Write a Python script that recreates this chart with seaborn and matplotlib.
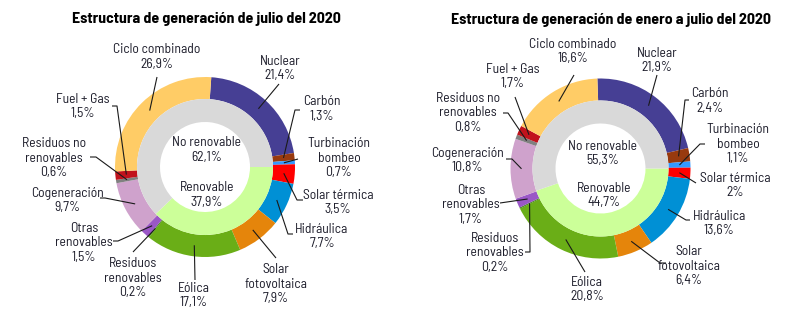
import numpy as np
import matplotlib
matplotlib.use("Agg")
import matplotlib.pyplot as plt
from matplotlib import font_manager as fm
import seaborn as sns

# ---------------- data ----------------
categories = ["Nuclear", "Carbón", "Turbinación\nbombeo", "Solar térmica", "Hidráulica",
              "Solar\nfotovoltaica", "Eólica", "Residuos\nrenovables", "Otras\nrenovables",
              "Cogeneración", "Residuos no\nrenovables", "Fuel + Gas", "Ciclo combinado"]
values_julio = [21.4, 1.3, 0.7, 3.5, 7.7, 7.9, 17.1, 0.2, 1.5, 9.7, 0.6, 1.5, 26.9]
values_enero_julio = [21.9, 2.4, 1.1, 2.0, 13.6, 6.4, 20.8, 0.2, 1.7, 10.8, 0.8, 1.7, 16.6]

inner_categories = ["Renovable", "No renovable"]
inner_julio = [37.9, 62.1]
inner_enero_julio = [44.7, 55.3]

titles = ["Estructura de generación de julio del 2020",
          "Estructura de generación de enero a julio del 2020"]

colors = ["#463F94", "#983A0E", "#3399FF", "#FF0000", "#0090D5", "#E5850B", "#6AAE17",
          "#3E7D14", "#9A57C6", "#CFA2CC", "#808080", "#C1121C", "#FFCC66"]
inner_colors = ["#CCFF99", "#D9D9D9"]

# ---------------- layout (pixels, y measured from top) ----------------
W, H = 800, 332
charts = [
    dict(center=(205, 167), start=4, title_pos=(206, 19),
         labels=[(280, 68.5), (322, 109), (339, 158), (338, 202.5), (322, 236.5),
                 (276, 284), (194, 295.5), (133, 278), (84, 243), (67, 200.5),
                 (54, 158), (83, 106.5), (157, 57)],
         paths=[[(279, 84)], [(295, 110), (300, 110)], [(298, 159)],
                [(297, 200), (303, 200)], [(288, 234), (293, 234)], [(276, 258)],
                [(195, 280)], [(133, 252)], [(118, 241), (113, 241)],
                [(105, 198), (100, 198)], [(96, 157), (90, 157)],
                [(117, 106), (112, 106)], [(157, 77)]],
         inner_pos=[(207, 195), (207, 150)]),
    dict(center=(600.5, 168.5), start=-2, title_pos=(611, 20),
         labels=[(657, 60.5), (710, 101), (738, 144), (735, 185.5), (719, 223.5),
                 (689, 266), (587, 289.5), (495, 253), (471, 205), (467, 160.5),
                 (468, 113), (513, 76.5), (573, 51.5)],
         paths=[[(657, 75)], [(685, 100), (689, 100)], [(700, 144), (705, 144)],
                [(696, 183)], [(686, 220), (690, 220)], [(660, 263), (666, 263)],
                [(585, 272)], [(530, 252), (525, 252)], [(500, 203)],
                [(512, 159), (506, 159)], [(508, 113), (503, 113)], [(515, 97)],
                [(574, 75)]],
         inner_pos=[(604, 195.5), (603, 153.5)]),
]
R_OUT, R_MID, R_IN = 90, 68, 45

sns.set_style("white")
plt.rcParams['font.family'] = ['Roboto', 'DejaVu Sans']


# ---------------- pick a condensed font if one is installed ----------------
def _wnum(w):
    if isinstance(w, (int, float)):
        return w
    return {"normal": 400, "regular": 400, "book": 400, "medium": 500,
            "semibold": 600, "demibold": 600, "bold": 700, "heavy": 800,
            "black": 900, "light": 300}.get(str(w).lower(), 400)


def find_condensed(bold):
    best = None
    for f in fm.fontManager.ttflist:
        name = f.name
        low = name.lower()
        if any(k in low for k in ("mono", "serif", "cjk", "math", "symbol", "emoji")):
            continue
        stretch = str(f.stretch).lower()
        cond = ("condensed" in stretch or "narrow" in stretch or "condensed" in low
                or "narrow" in low or "condensed" in f.fname.lower())
        if not cond or "extra" in stretch or "ultra" in stretch:
            continue
        if f.style != "normal":
            continue
        w = _wnum(f.weight)
        target = 700 if bold else 400
        score = abs(w - target)
        if "semi" in stretch or "semi" in low or "semi" in f.fname.lower():
            score -= 50
        if "extracond" in f.fname.lower() or "ultracond" in f.fname.lower():
            score += 500
        if best is None or score < best[0]:
            best = (score, f.fname)
    if best is not None and best[0] < 150:
        return fm.FontProperties(fname=best[1])
    return None


fp_reg = find_condensed(False)
fp_bold = find_condensed(True)
if fp_reg is not None:
    LBL = dict(fontproperties=fp_reg)
    LSIZE = 9.8
else:
    LBL = dict(family=["Roboto", "DejaVu Sans"], fontstretch="condensed")
    LSIZE = 9.0
if fp_bold is not None:
    TTL = dict(fontproperties=fp_bold)
    TSIZE = 11.4
else:
    TTL = dict(family=["Roboto", "DejaVu Sans"], fontweight="bold")
    TSIZE = 9.8

TXT = "#1C1C2A"


def fmt(v):
    if abs(v - round(v)) < 1e-9:
        return f"{int(round(v))}%"
    return f"{v:.1f}%".replace(".", ",")


fig = plt.figure(figsize=(8, 3.32), dpi=100)
ax = fig.add_axes([0, 0, 1, 1])


def Y(y):
    return H - y


def put_text(x, y, s, size, props, **kw):
    t = ax.text(x, Y(y), s, ha="center", va="center", color=kw.pop("color", TXT),
                **props, **kw)
    t.set_fontsize(size)
    return t


for chart, outer, inner, title in zip(charts, [values_julio, values_enero_julio],
                                      [inner_julio, inner_enero_julio], titles):
    cx, cy = chart["center"]
    c = (cx, Y(cy))
    ax.pie(outer, radius=R_OUT, center=c, startangle=90 - chart["start"],
           counterclock=False, colors=colors,
           wedgeprops=dict(width=R_OUT - R_MID, edgecolor="none"))
    ax.pie(inner, radius=R_MID, center=c, startangle=0, counterclock=False,
           colors=inner_colors, wedgeprops=dict(width=R_MID - R_IN, edgecolor="none"))

    cum = np.cumsum([0] + list(outer))
    total = cum[-1]
    for i, (name, v) in enumerate(zip(categories, outer)):
        mid = (cum[i] + cum[i + 1]) / 2 / total * 360 + chart["start"]
        r = (R_OUT + R_MID) / 2
        sx = cx + r * np.sin(np.radians(mid))
        sy = cy - r * np.cos(np.radians(mid))
        pts = [(sx, sy)] + chart["paths"][i]
        ax.plot([p[0] for p in pts], [Y(p[1]) for p in pts], color="#1a1a1a", lw=0.8,
                solid_capstyle="butt")
        lx, ly = chart["labels"][i]
        put_text(lx, ly, f"{name}\n{fmt(v)}", LSIZE, LBL,
                 multialignment="center", linespacing=1.12)

    for (px, py), name, v in zip(chart["inner_pos"], inner_categories, inner):
        put_text(px, py, f"{name}\n{fmt(v)}", LSIZE, LBL,
                 multialignment="center", linespacing=1.12)

    tx, ty = chart["title_pos"]
    put_text(tx, ty, title, TSIZE, TTL, color="#000000")

ax.set_xlim(0, W)
ax.set_ylim(0, H)
ax.set_aspect("equal")
ax.axis("off")
fig.savefig("out.png", dpi=100, facecolor="white")
